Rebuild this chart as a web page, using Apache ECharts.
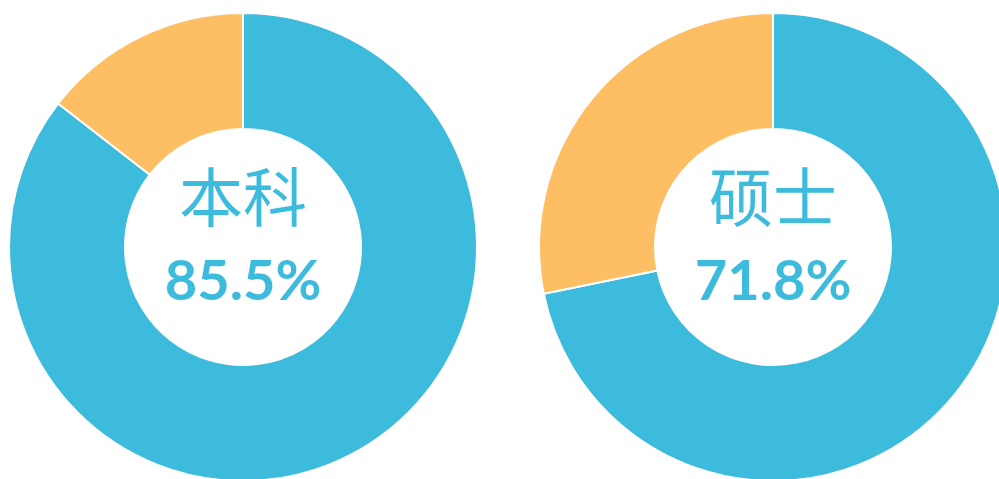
<!DOCTYPE html>
<html>
<head>
<meta charset="utf-8">
<script src="https://cdn.jsdelivr.net/npm/echarts@6/dist/echarts.min.js"></script>
<style>html,body{margin:0;padding:0;background:#fff}#c{width:999px;height:479px}</style>
</head>
<body>
<div id="c"></div>
<script>
var degrees = ['本科', '硕士'];
var mainShare = [85.5, 71.8];
var restShare = [14.5, 28.2];
var centers = [[243, 247], [773, 247]];

var BLUE = '#3DBBDD', ORANGE = '#FDBE64';
var chart = echarts.init(document.getElementById('c'));
var series = degrees.map(function (name, i) {
  return {
    type: 'pie',
    center: centers[i],
    radius: [118, 234],
    startAngle: 90,
    clockwise: true,
    silent: true,
    animation: false,
    itemStyle: { borderColor: '#fff', borderWidth: 2 },
    labelLine: { show: false },
    data: [
      {
        value: mainShare[i], name: name,
        itemStyle: { color: BLUE },
        label: {
          show: true, position: 'center',
          formatter: '{a|' + name + '}\n{b|' + mainShare[i].toFixed(1) + '%}',
          rich: {
            a: { fontFamily: 'Noto Sans CJK SC', fontSize: 64, color: BLUE, lineHeight: 70, fontWeight: 'normal' },
            b: { fontFamily: 'Lato', fontSize: 56, color: BLUE, fontWeight: 'bold', lineHeight: 100 }
          }
        }
      },
      { value: restShare[i], name: '其他', itemStyle: { color: ORANGE }, label: { show: false } }
    ]
  };
});
chart.setOption({ series: series });
</script>
</body>
</html>
